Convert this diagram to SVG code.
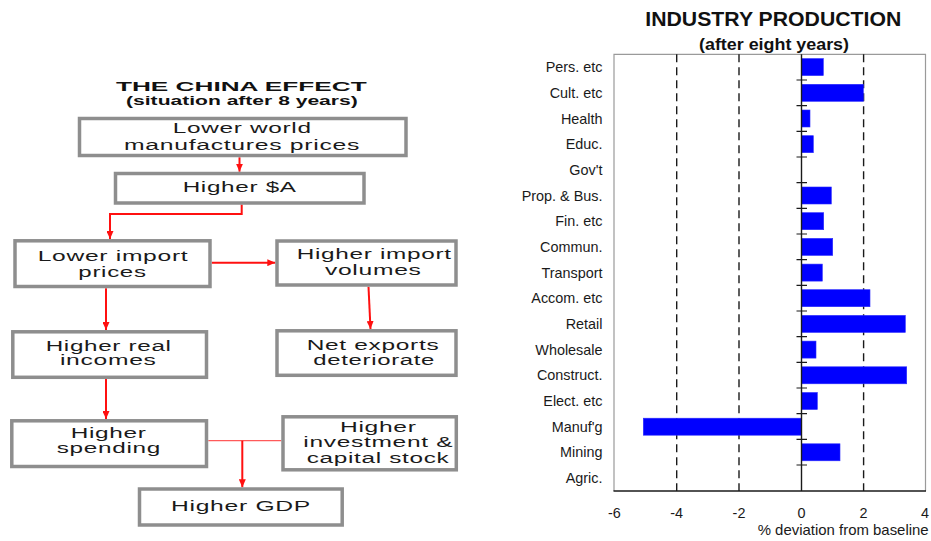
<svg xmlns="http://www.w3.org/2000/svg" width="931" height="541" viewBox="0 0 931 541">
<style>
.box{fill:#fff;stroke:#8e8e8e;stroke-width:3.5}
.ft{font-family:"Liberation Sans",Arial,sans-serif;font-size:14px;fill:#1a1a1a;text-anchor:middle;letter-spacing:0.4px}
.tt{font-family:"Liberation Sans",Arial,sans-serif;font-weight:bold;fill:#111;text-anchor:middle}
.con{fill:none;stroke:#ff1010;stroke-width:2}
.thin{fill:none;stroke:#ff5a5a;stroke-width:1.3}
.lbl{font-family:"Liberation Sans",Arial,sans-serif;font-size:14.4px;fill:#1a1a1a;text-anchor:end}
.ax{font-family:"Liberation Sans",Arial,sans-serif;font-size:14.4px;fill:#1a1a1a;text-anchor:middle}
.bar{fill:#0000ff;stroke:#2a2aff;stroke-width:0.6}
.grid{stroke:#1a1a1a;stroke-width:1.4;stroke-dasharray:8 5}
.tick{stroke:#1a1a1a;stroke-width:1.2}
</style>
<defs>
<marker id="ah" markerUnits="userSpaceOnUse" markerWidth="8" markerHeight="7" refX="8" refY="3.5" orient="auto">
<path d="M0,0 L8,3.5 L0,7 z" fill="#ff1010"/>
</marker>
</defs>
<rect width="931" height="541" fill="#fff"/>

<g id="flow-title">
<text class="tt" x="241.3" y="90.7" font-size="12.5" textLength="250.7" lengthAdjust="spacingAndGlyphs">THE CHINA EFFECT</text>
<text class="tt" x="241.9" y="104.7" font-size="12" textLength="231.7" lengthAdjust="spacingAndGlyphs">(situation after 8 years)</text>
</g>

<g id="connectors">
<line class="con" x1="239.5" y1="157.3" x2="239.5" y2="171.7" marker-end="url(#ah)"/>
<polyline class="con" points="241.7,204.5 241.7,214 110,214 110,239" marker-end="url(#ah)"/>
<line class="con" x1="211.7" y1="262.7" x2="275.3" y2="262.7" marker-end="url(#ah)"/>
<line class="con" x1="368.5" y1="286.7" x2="370.5" y2="329" marker-end="url(#ah)"/>
<line class="con" x1="106" y1="288.3" x2="106" y2="330" marker-end="url(#ah)"/>
<line class="con" x1="106" y1="379" x2="106" y2="419" marker-end="url(#ah)"/>
<line class="thin" x1="208.3" y1="440.7" x2="281.3" y2="440.7"/>
<line class="con" x1="242.3" y1="440.7" x2="242.3" y2="487.3" marker-end="url(#ah)"/>
</g>

<g id="n-world-prices">
<rect class="box" x="79.5" y="118.5" width="326.5" height="37"/>
<text class="ft" x="242.2" y="133.3" textLength="139" lengthAdjust="spacingAndGlyphs">Lower world</text>
<text class="ft" x="242" y="150" textLength="236" lengthAdjust="spacingAndGlyphs">manufactures prices</text>
</g>
<g id="n-higher-a">
<rect class="box" x="115.5" y="173.5" width="248.5" height="29.5"/>
<text class="ft" x="239.7" y="192.3" textLength="114" lengthAdjust="spacingAndGlyphs">Higher $A</text>
</g>
<g id="n-import-prices">
<rect class="box" x="15" y="240.8" width="195" height="45.7"/>
<text class="ft" x="113" y="260.7" textLength="150.7" lengthAdjust="spacingAndGlyphs">Lower import</text>
<text class="ft" x="112.5" y="276.7" textLength="68.3" lengthAdjust="spacingAndGlyphs">prices</text>
</g>
<g id="n-import-volumes">
<rect class="box" x="277" y="241" width="179" height="44"/>
<text class="ft" x="374.2" y="259.3" textLength="155" lengthAdjust="spacingAndGlyphs">Higher import</text>
<text class="ft" x="373.3" y="275" textLength="96.7" lengthAdjust="spacingAndGlyphs">volumes</text>
</g>
<g id="n-net-exports">
<rect class="box" x="277" y="330.8" width="179" height="44.5"/>
<text class="ft" x="373" y="350" textLength="132.7" lengthAdjust="spacingAndGlyphs">Net exports</text>
<text class="ft" x="374.2" y="365" textLength="121.7" lengthAdjust="spacingAndGlyphs">deteriorate</text>
</g>
<g id="n-real-incomes">
<rect class="box" x="12.8" y="331.8" width="193.7" height="45.5"/>
<text class="ft" x="108.7" y="350.7" textLength="126" lengthAdjust="spacingAndGlyphs">Higher real</text>
<text class="ft" x="108.3" y="365" textLength="96.7" lengthAdjust="spacingAndGlyphs">incomes</text>
</g>
<g id="n-spending">
<rect class="box" x="11.8" y="420.8" width="194.7" height="45.7"/>
<text class="ft" x="108.7" y="438.3" textLength="76" lengthAdjust="spacingAndGlyphs">Higher</text>
<text class="ft" x="108.8" y="453.3" textLength="104.3" lengthAdjust="spacingAndGlyphs">spending</text>
</g>
<g id="n-investment">
<rect class="box" x="283" y="416.8" width="173.3" height="53"/>
<text class="ft" x="378.3" y="431.7" textLength="76.7" lengthAdjust="spacingAndGlyphs">Higher</text>
<text class="ft" x="378.3" y="447.3" textLength="150" lengthAdjust="spacingAndGlyphs">investment &amp;</text>
<text class="ft" x="378" y="463.3" textLength="142.7" lengthAdjust="spacingAndGlyphs">capital stock</text>
</g>
<g id="n-gdp">
<rect class="box" x="139.5" y="489" width="202.7" height="36"/>
<text class="ft" x="241" y="511" textLength="140" lengthAdjust="spacingAndGlyphs">Higher GDP</text>
</g>

<g id="chart">
<text class="tt" x="773.3" y="26" font-size="20" textLength="256" lengthAdjust="spacingAndGlyphs">INDUSTRY PRODUCTION</text>
<text class="tt" x="774" y="49.7" font-size="17" textLength="150" lengthAdjust="spacingAndGlyphs">(after eight years)</text>

<path d="M614,491 V54.3 H925.5 V491" fill="none" stroke="#9a9a9a" stroke-width="1.2"/>
<line class="grid" x1="676.7" y1="54.3" x2="676.7" y2="491"/>
<line class="grid" x1="739" y1="54.3" x2="739" y2="491"/>
<line class="grid" x1="863.6" y1="54.3" x2="863.6" y2="491"/>

<g id="bars">
<rect class="bar" x="801.5" y="58.6" width="21.8" height="17"/>
<rect class="bar" x="801.5" y="84.3" width="61.8" height="17"/>
<rect class="bar" x="801.5" y="110" width="8.5" height="17"/>
<rect class="bar" x="801.5" y="135.7" width="11.8" height="17"/>
<rect class="bar" x="801.5" y="187" width="29.8" height="17"/>
<rect class="bar" x="801.5" y="212.7" width="22.2" height="17"/>
<rect class="bar" x="801.5" y="238.4" width="31.2" height="17"/>
<rect class="bar" x="801.5" y="264.1" width="20.8" height="17"/>
<rect class="bar" x="801.5" y="289.7" width="68.5" height="17"/>
<rect class="bar" x="801.5" y="315.4" width="103.8" height="17"/>
<rect class="bar" x="801.5" y="341.1" width="14.5" height="17"/>
<rect class="bar" x="801.5" y="366.8" width="105.2" height="17"/>
<rect class="bar" x="801.5" y="392.5" width="15.8" height="17"/>
<rect class="bar" x="643.3" y="418.2" width="158.2" height="17"/>
<rect class="bar" x="801.5" y="443.8" width="38.5" height="17"/>
</g>

<line x1="801.5" y1="54.3" x2="801.5" y2="491" stroke="#1a1a1a" stroke-width="1.4"/>
<path class="tick" d="M796.5,80H807 M796.5,105.6H807 M796.5,131.3H807 M796.5,157H807 M796.5,182.7H807 M796.5,208.3H807 M796.5,234H807 M796.5,259.7H807 M796.5,285.3H807 M796.5,311H807 M796.5,336.7H807 M796.5,362.4H807 M796.5,388H807 M796.5,413.7H807 M796.5,439.4H807 M796.5,465H807"/>
<line x1="613.5" y1="491" x2="926" y2="491" stroke="#1a1a1a" stroke-width="1.6"/>

<g id="cat-labels">
<text class="lbl" x="602.5" y="72.1">Pers. etc</text>
<text class="lbl" x="602.5" y="97.8">Cult. etc</text>
<text class="lbl" x="602.5" y="123.5">Health</text>
<text class="lbl" x="602.5" y="149.2">Educ.</text>
<text class="lbl" x="602.5" y="174.8">Gov't</text>
<text class="lbl" x="602.5" y="200.5">Prop. &amp; Bus.</text>
<text class="lbl" x="602.5" y="226.2">Fin. etc</text>
<text class="lbl" x="602.5" y="251.9">Commun.</text>
<text class="lbl" x="602.5" y="277.6">Transport</text>
<text class="lbl" x="602.5" y="303.2">Accom. etc</text>
<text class="lbl" x="602.5" y="328.9">Retail</text>
<text class="lbl" x="602.5" y="354.6">Wholesale</text>
<text class="lbl" x="602.5" y="380.3">Construct.</text>
<text class="lbl" x="602.5" y="406">Elect. etc</text>
<text class="lbl" x="602.5" y="431.7">Manuf'g</text>
<text class="lbl" x="602.5" y="457.3">Mining</text>
<text class="lbl" x="602.5" y="483">Agric.</text>
</g>

<g id="x-axis-labels">
<text class="ax" x="614.4" y="518.3">-6</text>
<text class="ax" x="676.7" y="518.3">-4</text>
<text class="ax" x="739" y="518.3">-2</text>
<text class="ax" x="801.5" y="518.3">0</text>
<text class="ax" x="863.6" y="518.3">2</text>
<text class="ax" x="925" y="518.3">4</text>
<text class="lbl" x="757.7" y="535" style="text-anchor:start" textLength="171" lengthAdjust="spacingAndGlyphs">% deviation from baseline</text>
</g>
</g>
</svg>
